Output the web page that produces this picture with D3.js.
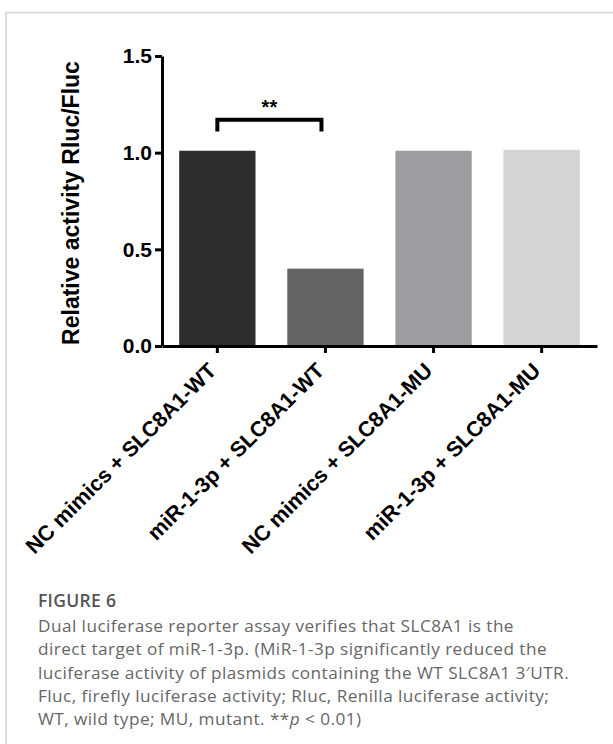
<!DOCTYPE html>
<html>
<head>
<meta charset="utf-8">
<script src="https://cdn.jsdelivr.net/npm/d3@7"></script>
<style>
	body { margin: 0; background: #fff; }
	svg { display: block; }
</style>
</head>
<body>
<div id="chart"></div>
<script>
(function() {
	// chart data
	var groups = ["NC mimics + SLC8A1-WT", "miR-1-3p + SLC8A1-WT", "NC mimics + SLC8A1-MU", "miR-1-3p + SLC8A1-MU"];
	var values = [1.01, 0.40, 1.01, 1.015];
	var barColors = ["#2e2e2e", "#646464", "#9e9ca0", "#d4d4d4"];
	var yTicks = [0, 0.5, 1.0, 1.5];
	var sigPair = [0, 1];
	var sigLabel = "**";
	var captionTitle = "FIGURE 6";
	var captionLines = [
		"Dual luciferase reporter assay verifies that SLC8A1 is the",
		"direct target of miR-1-3p. (MiR-1-3p significantly reduced the",
		"luciferase activity of plasmids containing the WT SLC8A1 3\u2032UTR.",
		"Fluc, firefly luciferase activity; Rluc, Renilla luciferase activity;",
		"WT, wild type; MU, mutant. "
	];

	var width = 613;
	var height = 744;
	var svg = d3.select("#chart")
		.append("svg")
		.attr("width", width)
		.attr("height", height);

	// light frame (top + left)
	svg.append("path")
		.attr("d", "M6,744V12.5H613")
		.attr("fill", "none")
		.attr("stroke", "#d2d2d2")
		.attr("stroke-width", 1.5);

	var x = d3.scaleBand()
		.domain(groups)
		.range([162, 597])
		.paddingInner(0.294)
		.paddingOuter(0.159);

	var y = d3.scaleLinear()
		.domain([0, 1.5])
		.range([346, 56]);

	var font = "'Liberation Sans', Arial, sans-serif";
	var g = svg.append("g");

	// bars
	g.selectAll("rect")
		.data(values)
		.enter()
		.append("rect")
		.attr("x", function(d, i) { return x(groups[i]); })
		.attr("y", function(d) { return y(d); })
		.attr("width", x.bandwidth())
		.attr("height", function(d) { return y(0) - y(d); })
		.attr("fill", function(d, i) { return barColors[i]; });

	// y axis
	var yAxis = g.append("g")
		.attr("transform", "translate(162,0)")
		.call(d3.axisLeft(y).tickValues(yTicks).tickFormat(d3.format(".1f")).tickSize(7).tickSizeOuter(0).tickPadding(3));
	yAxis.select(".domain").attr("stroke-width", 3);
	yAxis.selectAll(".tick line").attr("stroke-width", 3);
	yAxis.selectAll("text")
		.attr("font-family", font)
		.attr("font-size", 21)
		.attr("font-weight", "bold")
		.attr("fill", "#000");

	// x axis
	var xAxis = g.append("g")
		.attr("transform", "translate(0,346)")
		.call(d3.axisBottom(x).tickSize(7).tickSizeOuter(0));
	xAxis.select(".domain").attr("stroke-width", 3);
	xAxis.selectAll(".tick line").attr("stroke-width", 3);
	xAxis.selectAll("text")
		.attr("font-family", font)
		.attr("font-size", 21.5)
		.attr("font-weight", "bold")
		.attr("fill", "#000")
		.attr("text-anchor", "end")
		.attr("dy", 0)
		.attr("transform", "translate(-7,19) rotate(-45)");

	// y axis title
	svg.append("text")
		.attr("transform", "translate(79,203) rotate(-90)")
		.attr("text-anchor", "middle")
		.attr("font-family", font)
		.attr("font-size", 23)
		.attr("font-weight", "bold")
		.text("Relative activity Rluc/Fluc");

	// significance bracket
	var xa = x(groups[sigPair[0]]) + x.bandwidth() / 2;
	var xb = x(groups[sigPair[1]]) + x.bandwidth() / 2 - 4;
	var yTop = y(1.17);
	var yLeg = y(1.11);
	svg.append("path")
		.attr("d", "M" + xa + "," + yLeg + "V" + yTop + "H" + xb + "V" + yLeg)
		.attr("fill", "none")
		.attr("stroke", "#000")
		.attr("stroke-width", 4);
	svg.append("text")
		.attr("x", (xa + xb) / 2)
		.attr("y", yTop - 6)
		.attr("text-anchor", "middle")
		.attr("font-family", font)
		.attr("font-size", 20)
		.attr("font-weight", "bold")
		.text(sigLabel);

	// caption
	var capFont = "'Open Sans', 'Noto Sans', sans-serif";
	svg.append("text")
		.attr("x", 38)
		.attr("y", 607)
		.attr("font-family", capFont)
		.attr("font-size", 17.5)
		.attr("font-weight", 600)
		.attr("letter-spacing", 0.3)
		.attr("fill", "#555")
		.text(captionTitle);

	var cap = svg.append("g")
		.attr("font-family", capFont)
		.attr("font-size", 17.2)
		.attr("letter-spacing", 0.45)
		.attr("fill", "#666");
	captionLines.forEach(function(line, i) {
		var t = cap.append("text")
			.attr("x", 38)
			.attr("y", 632 + i * 23.3)
			.text(line);
		if (i === captionLines.length - 1) {
			t.append("tspan").text("**");
			t.append("tspan").attr("font-style", "italic").text("p");
			t.append("tspan").text(" < 0.01)");
		}
	});
})();
</script>
</body>
</html>
